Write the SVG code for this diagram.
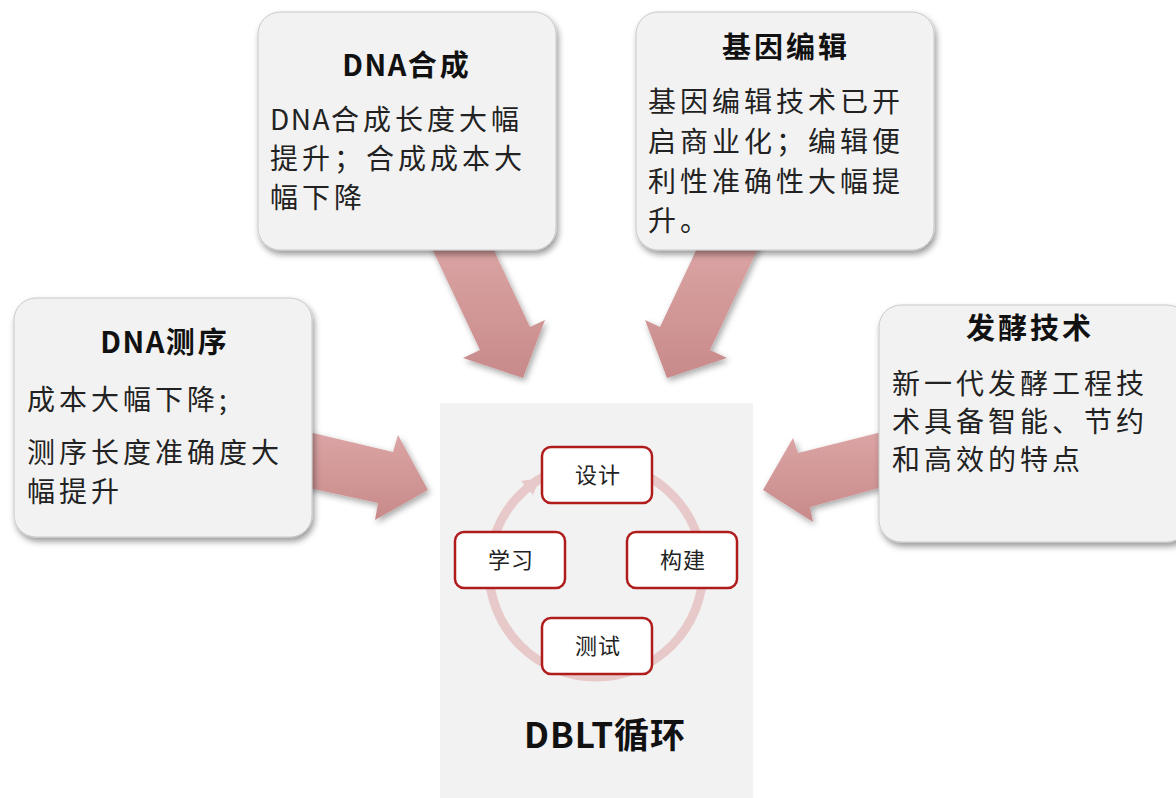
<svg xmlns="http://www.w3.org/2000/svg" width="1176" height="798" viewBox="0 0 1176 798">
<defs>
<style>
.box{fill:#f2f2f2;stroke:#c8c8c8;stroke-width:1;filter:url(#sh)}
.title{font-family:"Noto Sans CJK SC","Liberation Sans",sans-serif;font-weight:bold;font-size:29px;letter-spacing:3px;fill:#111;text-anchor:middle}
.body{font-family:"Noto Sans CJK SC","Liberation Sans",sans-serif;font-size:28px;letter-spacing:4px;fill:#222}
.lat{letter-spacing:1.5px}
.step{fill:#fff;stroke:#b01c1c;stroke-width:2.5}
.stept{font-family:"Noto Sans CJK SC","Liberation Sans",sans-serif;font-size:22px;letter-spacing:1px;fill:#222;text-anchor:middle}
.big{fill:url(#ag);filter:url(#ash)}
</style>
<linearGradient id="ag" x1="0" y1="0" x2="0" y2="1">
<stop offset="0" stop-color="#dca5a5"/>
<stop offset="1" stop-color="#c88a8a"/>
</linearGradient>
<filter id="sh" x="-10%" y="-10%" width="125%" height="130%">
<feDropShadow dx="2" dy="4" stdDeviation="3" flood-color="#000" flood-opacity="0.4"/>
</filter>
<filter id="ash" x="-20%" y="-20%" width="150%" height="150%">
<feDropShadow dx="2" dy="3" stdDeviation="3" flood-color="#000" flood-opacity="0.35"/>
</filter>
</defs>
<rect width="1176" height="798" fill="#fff"/>

<g id="connectors">
<polygon class="big" points="428,240 489,240 530,327 545,320 523,378 463,358 480,350"/>
<polygon class="big" points="762,240 701,240 660,327 645,320 667,378 727,358 710,350"/>
<polygon class="big" points="300,430 393,452 398,435 428,490 375,520 378,503 300,486"/>
<polygon class="big" points="890,430 798,453 793,438 763,490 813,522 810,507 890,485"/>
</g>

<g id="dbtl">
<rect x="440" y="403" width="313" height="395" fill="#f2f2f2"/>
<circle cx="596" cy="570" r="107" fill="none" stroke="#e8c9c9" stroke-width="9"/>
<polygon points="540,478 521,481 533,495" fill="#e8c9c9"/>
<g id="s-design"><rect class="step" x="542" y="447" width="110" height="56" rx="9"/><text class="stept" x="598" y="483">设计</text></g>
<g id="s-learn"><rect class="step" x="455" y="532" width="110" height="56" rx="9"/><text class="stept" x="511" y="568">学习</text></g>
<g id="s-build"><rect class="step" x="627" y="532" width="110" height="56" rx="9"/><text class="stept" x="683" y="568">构建</text></g>
<g id="s-test"><rect class="step" x="542" y="618" width="110" height="56" rx="9"/><text class="stept" x="598" y="654">测试</text></g>
<text x="605" y="748" font-family="'Noto Sans CJK SC','Liberation Sans',sans-serif" font-weight="bold" font-size="35" letter-spacing="1" fill="#111" text-anchor="middle">DBLT循环</text>
</g>

<g id="n-seq">
<rect class="box" x="14" y="298" width="298" height="239" rx="22"/>
<text class="title" x="165" y="353"><tspan class="lat">DNA</tspan>测序</text>
<text class="body" x="27" y="410">成本大幅下降;</text>
<text class="body" x="27" y="463">测序长度准确度大</text>
<text class="body" x="27" y="502">幅提升</text>
</g>

<g id="n-syn">
<rect class="box" x="258" y="12" width="298" height="238" rx="22"/>
<text class="title" x="407" y="76"><tspan class="lat">DNA</tspan>合成</text>
<text class="body" x="270" y="130"><tspan class="lat">DNA</tspan>合成长度大幅</text>
<text class="body" x="270" y="169">提升；合成成本大</text>
<text class="body" x="270" y="208">幅下降</text>
</g>

<g id="n-edit">
<rect class="box" x="636" y="12" width="298" height="238" rx="22"/>
<text class="title" x="786" y="58">基因编辑</text>
<text class="body" x="648" y="112">基因编辑技术已开</text>
<text class="body" x="648" y="152">启商业化；编辑便</text>
<text class="body" x="648" y="192">利性准确性大幅提</text>
<text class="body" x="648" y="231">升。</text>
</g>

<g id="n-ferm">
<rect class="box" x="879" y="305" width="310" height="237" rx="22"/>
<text class="title" x="1030" y="339">发酵技术</text>
<text class="body" x="892" y="394">新一代发酵工程技</text>
<text class="body" x="892" y="432">术具备智能、节约</text>
<text class="body" x="892" y="470">和高效的特点</text>
</g>
</svg>
